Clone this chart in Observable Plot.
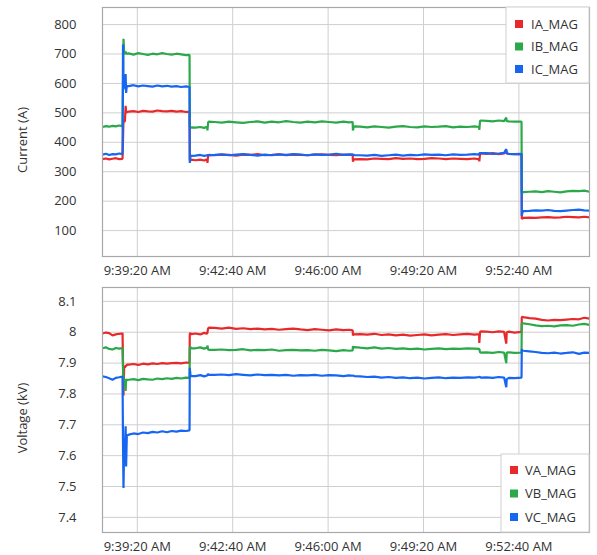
<!DOCTYPE html>
<html>
<head>
<meta charset="utf-8">
<script src="https://cdn.jsdelivr.net/npm/d3@7"></script>
<script src="https://cdn.jsdelivr.net/npm/@observablehq/plot@0.6"></script>
<style>
  html, body { margin: 0; padding: 0; background: #fff; }
  #wrap { width: 597px; }
  #wrap svg { display: block; }
</style>
</head>
<body>
<div id="wrap"></div>
<script>
// Time offsets in seconds from 9:38:07 AM
const tSec = [
  0, 7, 14, 21, 28, 35, 41.5,
  42, 43, 44, 45.5, 47, 48.5, 49.5, 51,
  55, 65, 75, 85, 95, 105, 115, 125, 135, 145, 155, 165, 175, 182.5,
  183, 184.5, 186,
  195, 205, 213, 219.5,
  220, 221.5, 223,
  235, 250, 265, 280, 295, 310, 325, 340, 355, 370, 385, 400, 415, 430, 445, 460, 475, 490, 505, 517, 524.5,
  525, 526.5, 528,
  540, 555, 570, 585, 600, 615, 630, 645, 660, 675, 690, 705, 720, 735, 750, 765, 780, 789.5,
  790, 791.5, 793,
  805, 818, 831, 842, 846.5, 847.5, 852, 864, 878.5,
  879, 880.5, 882,
  895, 908, 921, 934, 947, 960, 973, 986, 999, 1010, 1021
];

const IA_MAG = [
  343, 345, 342, 344, 346, 343, 344,
  344, 410, 478, 470, 472, 524, 500, 503,
  504, 506, 503, 507, 505, 504, 508, 506, 505, 507, 504, 506, 503, 504,
  340, 338, 341,
  339, 341, 338, 342,
  330, 356, 357,
  356, 358, 357, 355, 358, 357, 360, 356, 357, 359, 356, 358, 357, 356, 358, 359, 357, 356, 358, 357, 358,
  334, 341, 342,
  343, 342, 345, 344, 343, 346, 344, 345, 343, 344, 346, 345, 343, 345, 344, 343, 345, 342,
  335, 361, 362,
  361, 363, 360, 362, 372, 362, 361, 360, 361,
  140, 141, 143,
  144, 143, 145, 146, 144, 145, 147, 146, 145, 147, 145
];
const IB_MAG = [
  452, 455, 453, 456, 454, 457, 455,
  455, 600, 752, 703, 700, 708, 702, 701,
  702, 698, 703, 700, 697, 701, 699, 703, 700, 698, 701, 699, 696, 697,
  452, 449, 451,
  450, 452, 449, 453,
  440, 468, 470,
  469, 467, 470, 468, 466, 469, 471, 467, 470, 468, 472, 469, 467, 470, 468, 471, 469, 467, 470, 468, 469,
  440, 452, 454,
  453, 451, 454, 452, 450, 453, 455, 452, 451, 454, 452, 453, 455, 451, 453, 452, 454, 452,
  442, 472, 474,
  473, 471, 474, 472, 484, 472, 471, 470, 470,
  230, 229, 231,
  232, 233, 231, 234, 232, 230, 233, 235, 234, 236, 232
];
const IC_MAG = [
  358, 361, 357, 360, 359, 362, 360,
  360, 732, 580, 592, 590, 632, 568, 592,
  591, 594, 590, 593, 591, 589, 593, 590, 592, 589, 591, 588, 590, 588,
  330, 355, 354,
  355, 357, 354, 356,
  355, 357, 356,
  357, 359, 356, 358, 360, 357, 355, 358, 356, 359, 357, 360, 358, 356, 359, 357, 358, 361, 357, 359, 358,
  357, 358, 356,
  356, 355, 357, 354, 356, 358, 355, 357, 356, 359, 357, 358, 356, 359, 357, 358, 360, 358,
  362, 364, 363,
  363, 361, 362, 364, 377, 362, 361, 360, 360,
  150, 162, 166,
  167, 169, 168, 170, 167, 166, 168, 170, 171, 169, 168
];

const VA_MAG = [
  7.996, 7.999, 7.997, 7.990, 7.993, 7.995, 7.996,
  7.998, 7.900, 7.795, 7.890, 7.885, 7.893, 7.890, 7.895,
  7.895, 7.897, 7.894, 7.898, 7.896, 7.899, 7.897, 7.900, 7.898, 7.900, 7.901, 7.899, 7.902, 7.901,
  7.995, 7.997, 7.994,
  7.996, 7.993, 7.998, 7.995,
  8.000, 8.012, 8.015,
  8.014, 8.012, 8.015, 8.011, 8.013, 8.010, 8.012, 8.009, 8.011, 8.008, 8.010, 8.012, 8.009, 8.007, 8.010, 8.008, 8.006, 8.009, 8.007, 8.008, 8.006,
  7.990, 7.994, 7.993,
  7.994, 7.992, 7.995, 7.991, 7.993, 7.990, 7.992, 7.989, 7.991, 7.993, 7.990, 7.992, 7.994, 7.991, 7.993, 7.995, 7.992, 7.994,
  7.965, 8.000, 8.003,
  8.002, 8.000, 8.003, 8.001, 7.963, 8.000, 8.002, 7.999, 8.001,
  8.048, 8.050, 8.049,
  8.046, 8.044, 8.040, 8.038, 8.040, 8.039, 8.041, 8.043, 8.042, 8.047, 8.044
];
const VB_MAG = [
  7.948, 7.951, 7.946, 7.944, 7.949, 7.947, 7.949,
  7.948, 7.880, 7.850, 7.845, 7.840, 7.810, 7.848, 7.845,
  7.846, 7.848, 7.845, 7.849, 7.847, 7.846, 7.850, 7.848, 7.851, 7.849, 7.852, 7.850, 7.853, 7.852,
  7.950, 7.952, 7.948,
  7.948, 7.951, 7.947, 7.950,
  7.957, 7.944, 7.943,
  7.943, 7.944, 7.942, 7.943, 7.945, 7.941, 7.943, 7.942, 7.944, 7.940, 7.942, 7.943, 7.941, 7.942, 7.940, 7.943, 7.941, 7.939, 7.942, 7.940, 7.941,
  7.955, 7.950, 7.952,
  7.950, 7.948, 7.951, 7.947, 7.949, 7.946, 7.948, 7.945, 7.947, 7.944, 7.946, 7.948, 7.945, 7.947, 7.946, 7.948, 7.947, 7.946,
  7.946, 7.935, 7.934,
  7.935, 7.933, 7.936, 7.934, 7.900, 7.934, 7.935, 7.933, 7.934,
  8.028, 8.030, 8.029,
  8.026, 8.022, 8.020, 8.021, 8.019, 8.022, 8.023, 8.021, 8.025, 8.027, 8.024
];
const VC_MAG = [
  7.857, 7.855, 7.851, 7.846, 7.852, 7.854, 7.856,
  7.855, 7.640, 7.495, 7.640, 7.630, 7.695, 7.565, 7.665,
  7.668, 7.672, 7.670, 7.675, 7.673, 7.677, 7.675, 7.679, 7.676, 7.680, 7.678, 7.681, 7.680, 7.682,
  7.885, 7.860, 7.858,
  7.858, 7.861, 7.857, 7.860,
  7.862, 7.864, 7.862,
  7.862, 7.863, 7.861, 7.864, 7.862, 7.860, 7.863, 7.861, 7.862, 7.860, 7.862, 7.859, 7.861, 7.860, 7.862, 7.859, 7.861, 7.860, 7.858, 7.860, 7.859,
  7.860, 7.859, 7.858,
  7.857, 7.855, 7.856, 7.853, 7.855, 7.852, 7.854, 7.851, 7.853, 7.850, 7.852, 7.854, 7.851, 7.853, 7.852, 7.854, 7.853, 7.855,
  7.856, 7.855, 7.853,
  7.854, 7.852, 7.855, 7.853, 7.822, 7.848, 7.852, 7.851, 7.853,
  7.945, 7.941, 7.940,
  7.938, 7.936, 7.933, 7.932, 7.934, 7.931, 7.933, 7.935, 7.930, 7.934, 7.933
];

const currentNames = ["IA_MAG", "IB_MAG", "IC_MAG"];
const voltageNames = ["VA_MAG", "VB_MAG", "VC_MAG"];
const phaseColors = ["#e8292b", "#2ba84a", "#1766f2"];
const xTickLabels = ["9:39:20", "9:42:40", "9:46:00", "9:49:20", "9:52:40"];
const currentTicks = [100, 200, 300, 400, 500, 600, 700, 800];
const voltageTicks = [7.4, 7.5, 7.6, 7.7, 7.8, 7.9, 8.0, 8.1];
const startTime = "9:38:07";
const endTime = "9:55:08";

function toDate(hms) {
  const [h, m, s] = hms.split(":").map(Number);
  return new Date(2020, 0, 1, h, m, s);
}
const t0 = toDate(startTime);
const times = tSec.map(s => new Date(t0.getTime() + s * 1000));
const xTicks = xTickLabels.map(toDate);
const fmtTime = d3.timeFormat("%-I:%M:%S %p");

function tidy(names, series) {
  const rows = [];
  names.forEach((n, i) => series[i].forEach((v, j) => rows.push({t: times[j], v, s: n})));
  return rows;
}

const FONT = "'Open Sans', 'Noto Sans', sans-serif";

function makeChart({names, series, yDomain, yTicks, yFmt, height, marginBottom, ylabel, ylabelY, legend}) {
  const chart = Plot.plot({
    width: 597,
    height,
    marginTop: 7,
    marginLeft: 102,
    marginRight: 8,
    marginBottom,
    style: {fontFamily: FONT, fontSize: "13px", color: "#333", background: "#fff"},
    x: {type: "time", domain: [toDate(startTime), toDate(endTime)], ticks: xTicks, tickFormat: fmtTime, tickSize: 0, tickPadding: 9, label: null},
    y: {domain: yDomain, ticks: yTicks, tickFormat: yFmt, tickSize: 0, tickPadding: 26, label: null},
    color: {domain: names, range: phaseColors},
    marks: [
      Plot.gridX(xTicks, {stroke: "#cfcfcf", strokeOpacity: 1}),
      Plot.gridY(yTicks, {stroke: "#cfcfcf", strokeOpacity: 1}),
      Plot.line(tidy(names, series), {x: "t", y: "v", stroke: "s", z: "s", strokeWidth: 2.2, strokeLinejoin: "miter", strokeLinecap: "butt", curve: "linear"}),
      Plot.frame({stroke: "#a8a8a8", strokeWidth: 1.2})
    ]
  });
  const svg = d3.select(chart);
  svg.selectAll("text").attr("fill", "#333");
  svg.append("text")
    .attr("transform", `translate(27,${ylabelY}) rotate(-90)`)
    .attr("text-anchor", "middle")
    .attr("font-family", FONT)
    .attr("font-size", 13)
    .attr("fill", "#333")
    .text(ylabel);
  // legend box
  const g = svg.append("g").attr("font-family", FONT).attr("font-size", 13).attr("text-anchor", "start");
  g.append("rect")
    .attr("x", legend.x).attr("y", legend.y).attr("width", legend.w).attr("height", legend.h)
    .attr("fill", "#fff").attr("stroke", "#d0d0d0");
  names.forEach((n, i) => {
    const cy = legend.y + legend.first + i * legend.step;
    g.append("rect").attr("x", legend.sx).attr("y", cy - 4).attr("width", 8).attr("height", 8).attr("fill", phaseColors[i]);
    g.append("text").attr("x", legend.tx).attr("y", cy).attr("dy", "0.35em").attr("text-anchor", "start").attr("fill", "#333").text(n);
  });
  return chart;
}

const wrap = document.getElementById("wrap");
wrap.appendChild(makeChart({
  names: currentNames,
  series: [IA_MAG, IB_MAG, IC_MAG],
  yDomain: [12, 858],
  yTicks: currentTicks,
  yFmt: d => String(d),
  height: 280,
  marginBottom: 24,
  ylabel: "Current (A)",
  ylabelY: 140,
  legend: {x: 506, y: 7, w: 83, h: 76, first: 17, step: 22.5, sx: 515, tx: 531}
}));
wrap.appendChild(makeChart({
  names: voltageNames,
  series: [VA_MAG, VB_MAG, VC_MAG],
  yDomain: [7.351, 8.145],
  yTicks: voltageTicks,
  yFmt: d => String(+d.toFixed(1)),
  height: 275,
  marginBottom: 23,
  ylabel: "Voltage (kV)",
  ylabelY: 138,
  legend: {x: 501, y: 174, w: 88, h: 78, first: 16, step: 23.5, sx: 510, tx: 525}
}));
</script>
</body>
</html>
